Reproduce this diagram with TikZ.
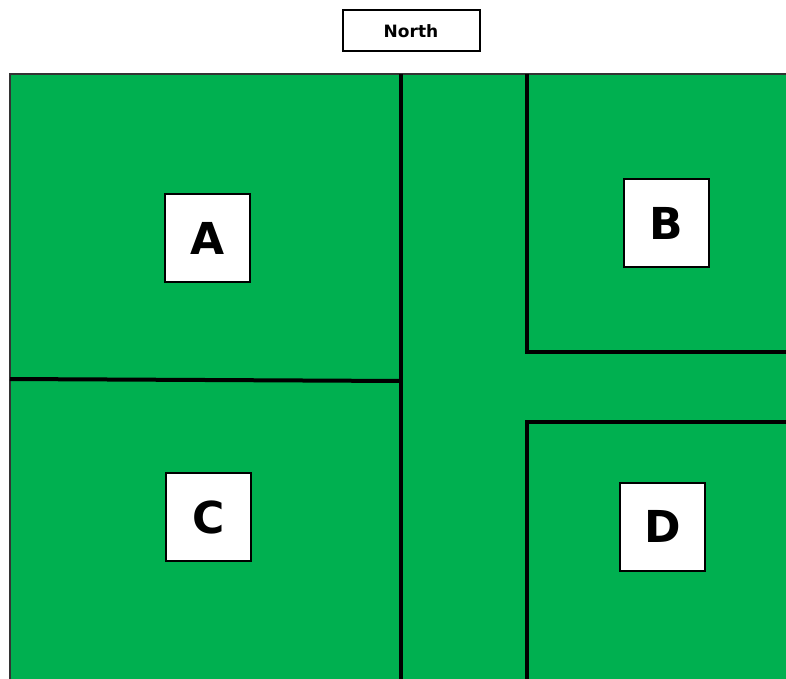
\documentclass[tikz,border=0pt]{standalone}
\usepackage{fontspec}
\setmainfont{DejaVu Sans}
\definecolor{fieldgreen}{RGB}{0,176,80}
\begin{document}
\begin{tikzpicture}[x=1pt,y=-1pt,
  divider/.style={line width=4pt,black},
  plotlabel/.style={draw=black,line width=2pt,fill=white,minimum width=85pt,minimum height=88pt,inner sep=0pt,font=\fontsize{44}{48}\selectfont\bfseries},
  northlabel/.style={draw=black,line width=2pt,fill=white,minimum width=137pt,minimum height=41pt,inner sep=0pt,font=\fontsize{17}{20}\selectfont\bfseries}]
\useasboundingbox (0,0) rectangle (786,679);
\fill[white] (0,0) rectangle (786,679);
% green field
\fill[fieldgreen] (10,74) rectangle (786,679);
\draw[line width=2pt,black!80] (10,679) -- (10,74) -- (786,74);
% dividers
\coordinate (v1top) at (401,74);
\coordinate (v1bot) at (401,679);
\coordinate (h1l) at (10,379);
\coordinate (h1r) at (401,381);
\coordinate (v2top) at (527,74);
\coordinate (v2mid) at (527,352);
\coordinate (h2r) at (786,352);
\coordinate (h3r) at (786,422);
\coordinate (v3mid) at (527,422);
\coordinate (v3bot) at (527,679);
\draw[divider] (v1top) -- (v1bot);
\draw[divider] (h1l) -- (h1r);
\draw[divider] (v2top) -- (v2mid) -- (h2r);
\draw[divider] (h3r) -- (v3mid) -- (v3bot);
% labels
\node[northlabel] (north) at (411,31) {North};
\node[plotlabel] (A) at (207.5,238) {A};
\node[plotlabel] (B) at (666,223) {B};
\node[plotlabel] (C) at (208.5,517) {C};
\node[plotlabel] (D) at (662.5,526.5) {D};
\end{tikzpicture}
\end{document}
